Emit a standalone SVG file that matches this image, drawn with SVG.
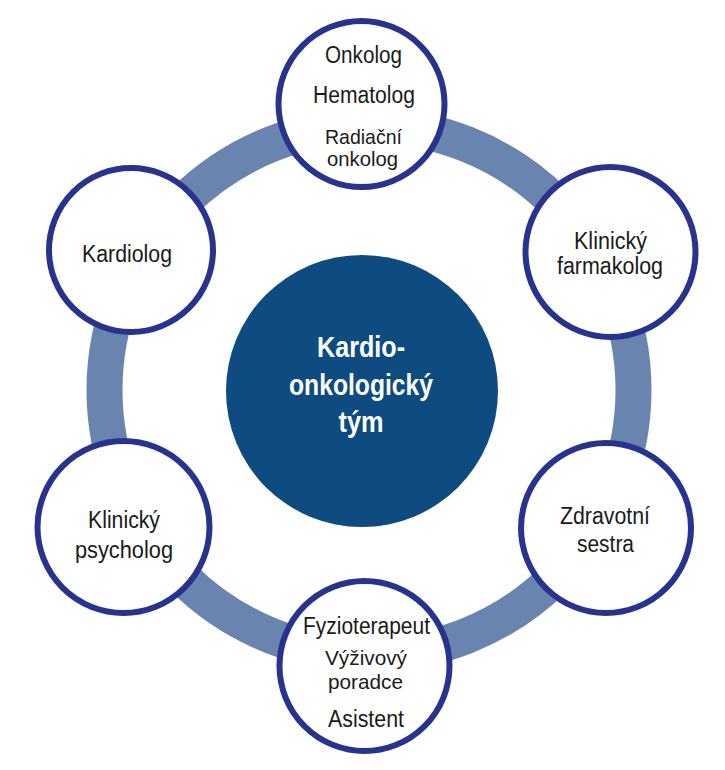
<svg xmlns="http://www.w3.org/2000/svg" width="725" height="770" viewBox="0 0 725 770">
<style>
.node{fill:#ffffff;stroke:#27338c;stroke-width:6}
.lbl{font-family:"Liberation Sans",Arial,sans-serif;font-size:23px;fill:#1a1a1a;text-anchor:middle}
.tight{font-size:21px}
.ctr{font-family:"Liberation Sans",Arial,sans-serif;font-size:30px;font-weight:bold;fill:#ffffff;text-anchor:middle}
</style>
<rect width="725" height="770" fill="#ffffff"/>
<g id="connectors">
<circle cx="369" cy="390" r="264.5" fill="none" stroke="#6a84b0" stroke-width="36"/>
</g>
<g id="center">
<circle cx="362" cy="391" r="136" fill="#0d4b80"/>
<text class="ctr" x="361" y="357" textLength="88" lengthAdjust="spacingAndGlyphs">Kardio-</text>
<text class="ctr" x="361" y="395" textLength="144" lengthAdjust="spacingAndGlyphs">onkologický</text>
<text class="ctr" x="361" y="432" textLength="45" lengthAdjust="spacingAndGlyphs">tým</text>
</g>
<g id="node-top">
<circle class="node" cx="361.5" cy="104" r="83"/>
<text class="lbl" x="363.5" y="63" textLength="77" lengthAdjust="spacingAndGlyphs">Onkolog</text>
<text class="lbl" x="364" y="103" textLength="102" lengthAdjust="spacingAndGlyphs">Hematolog</text>
<text class="lbl tight" x="363.5" y="144" textLength="77" lengthAdjust="spacingAndGlyphs">Radiační</text>
<text class="lbl tight" x="362.5" y="166" textLength="71" lengthAdjust="spacingAndGlyphs">onkolog</text>
</g>
<g id="node-farmakolog">
<circle class="node" cx="610.5" cy="252" r="85"/>
<text class="lbl" x="610.5" y="249" textLength="73" lengthAdjust="spacingAndGlyphs">Klinický</text>
<text class="lbl" x="610" y="274" textLength="106" lengthAdjust="spacingAndGlyphs">farmakolog</text>
</g>
<g id="node-sestra">
<circle class="node" cx="606" cy="528" r="85"/>
<text class="lbl" x="605" y="524" textLength="90" lengthAdjust="spacingAndGlyphs">Zdravotní</text>
<text class="lbl" x="605.5" y="552" textLength="57" lengthAdjust="spacingAndGlyphs">sestra</text>
</g>
<g id="node-bottom">
<circle class="node" cx="364.5" cy="666" r="85"/>
<text class="lbl" x="366.5" y="634" textLength="127" lengthAdjust="spacingAndGlyphs">Fyzioterapeut</text>
<text class="lbl tight" x="366" y="665" textLength="82" lengthAdjust="spacingAndGlyphs">Výživový</text>
<text class="lbl tight" x="365.5" y="689" textLength="75" lengthAdjust="spacingAndGlyphs">poradce</text>
<text class="lbl" x="366" y="727" textLength="76" lengthAdjust="spacingAndGlyphs">Asistent</text>
</g>
<g id="node-psycholog">
<circle class="node" cx="123.5" cy="527" r="86"/>
<text class="lbl" x="124" y="528" textLength="72" lengthAdjust="spacingAndGlyphs">Klinický</text>
<text class="lbl" x="124" y="558" textLength="98" lengthAdjust="spacingAndGlyphs">psycholog</text>
</g>
<g id="node-kardiolog">
<circle class="node" cx="131" cy="250" r="82"/>
<text class="lbl" x="127" y="262" textLength="90" lengthAdjust="spacingAndGlyphs">Kardiolog</text>
</g>
</svg>
